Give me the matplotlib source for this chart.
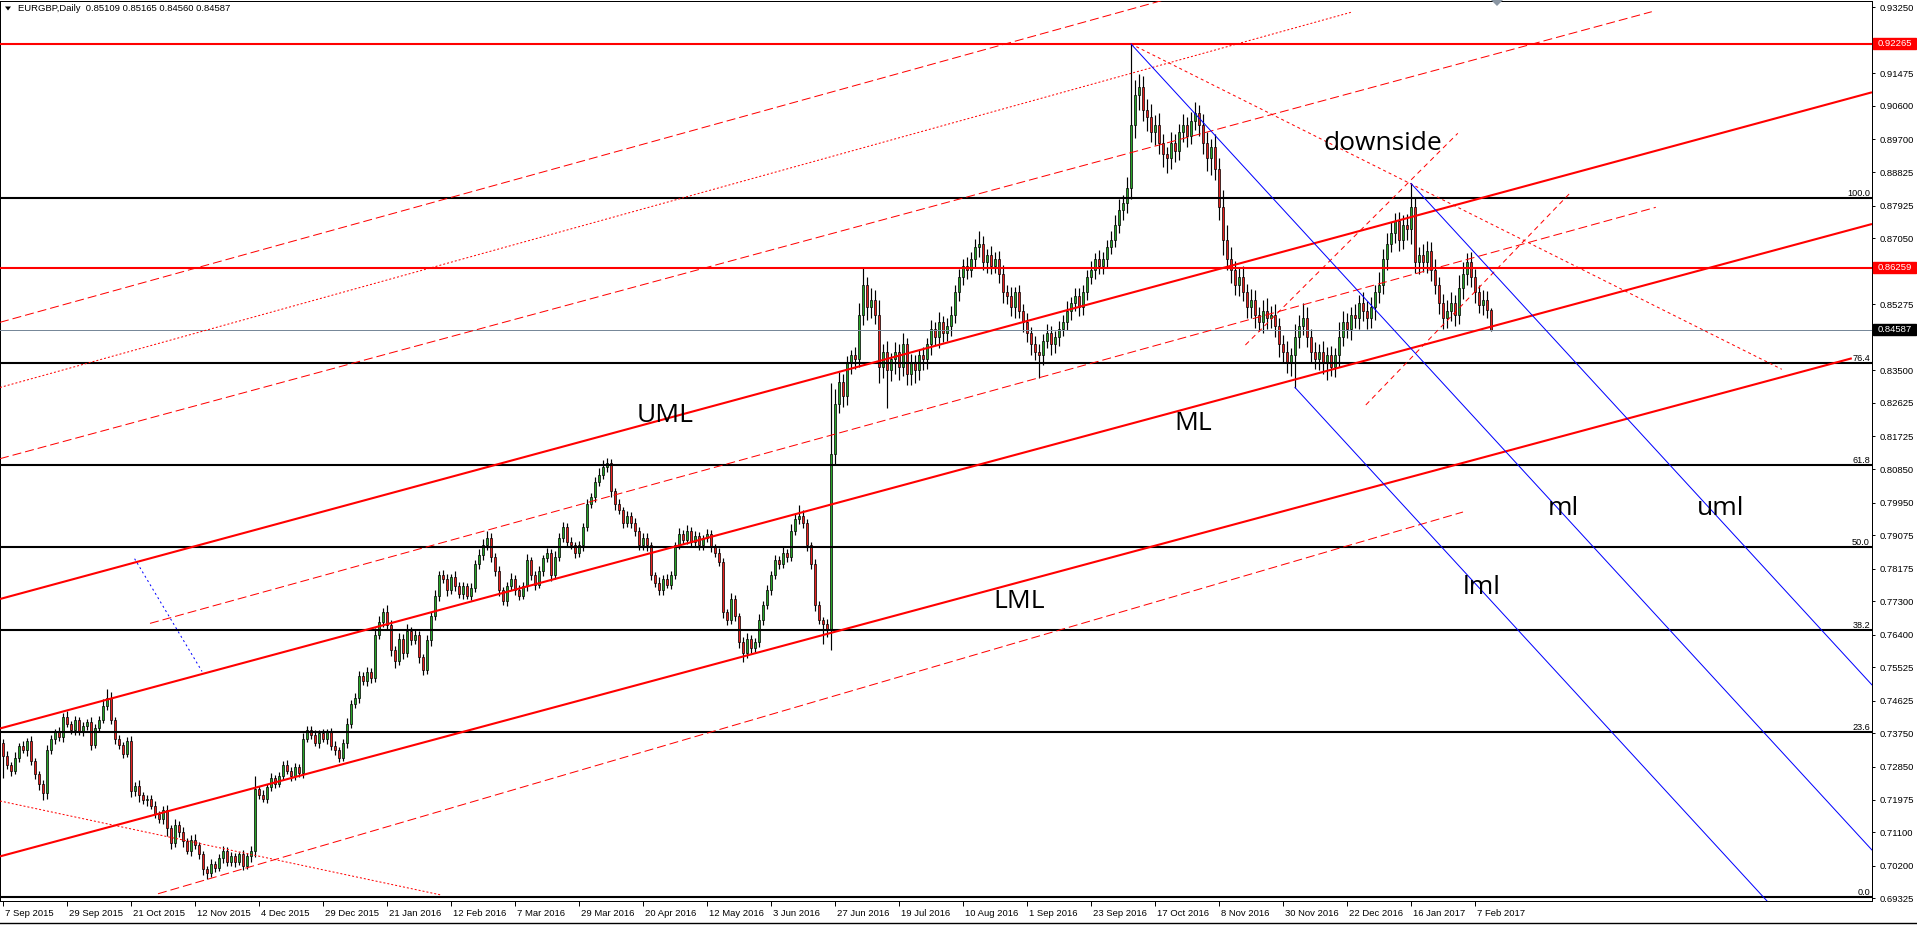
import numpy as np
import matplotlib
matplotlib.use('Agg')
import matplotlib.pyplot as plt
from matplotlib.patches import Rectangle, Polygon
from matplotlib.lines import Line2D
import matplotlib.transforms as mtransforms

plt.rcParams['font.family'] = ['Liberation Sans', 'DejaVu Sans']

# ---------------- data ----------------
header_text = 'EURGBP,Daily  0.85109 0.85165 0.84560 0.84587'

date_labels = ['7 Sep 2015', '29 Sep 2015', '21 Oct 2015', '12 Nov 2015', '4 Dec 2015',
               '29 Dec 2015', '21 Jan 2016', '12 Feb 2016', '7 Mar 2016', '29 Mar 2016',
               '20 Apr 2016', '12 May 2016', '3 Jun 2016', '27 Jun 2016', '19 Jul 2016',
               '10 Aug 2016', '1 Sep 2016', '23 Sep 2016', '17 Oct 2016', '8 Nov 2016',
               '30 Nov 2016', '22 Dec 2016', '16 Jan 2017', '7 Feb 2017']
label_bars = [0, 16, 32, 48, 64, 80, 96, 112, 128, 144, 160, 176, 192, 208, 224,
              240, 256, 272, 288, 304, 320, 336, 352, 368]

first_open_pips = 7350
close_pips = [
    7315, 7290, 7275, 7310, 7340, 7330, 7355, 7300, 7265, 7240,
    7215, 7330, 7360, 7380, 7365, 7420, 7400, 7385, 7410, 7380,
    7395, 7405, 7345, 7390, 7410, 7450, 7470, 7410, 7360, 7345,
    7320, 7355, 7220, 7235, 7210, 7195, 7200, 7180, 7160, 7145,
    7170, 7120, 7080, 7130, 7110, 7085, 7060, 7090, 7075, 7050,
    7010, 7000, 7025, 7015, 7040, 7060, 7030, 7045, 7030, 7050,
    7020, 7045, 7060, 7225, 7210, 7200, 7230, 7255, 7240, 7260,
    7290, 7275, 7260, 7285, 7270, 7360, 7385, 7370, 7350, 7375,
    7360, 7380, 7340, 7330, 7310, 7350, 7400, 7455, 7470, 7530,
    7515, 7540, 7525, 7640, 7675, 7700, 7665, 7600, 7570, 7630,
    7590, 7650, 7625, 7640, 7580, 7545, 7625, 7690, 7745, 7800,
    7790, 7760, 7795, 7770, 7750, 7770, 7745, 7765, 7830, 7855,
    7880, 7900, 7850, 7810, 7760, 7730, 7770, 7790, 7760, 7745,
    7770, 7840, 7800, 7775, 7810, 7845, 7860, 7800, 7850, 7900,
    7930, 7890, 7880, 7860, 7880, 7930, 7990, 8010, 8050, 8070,
    8090, 8100, 8025, 7990, 7975, 7940, 7960, 7940, 7920, 7880,
    7900, 7880, 7800, 7780, 7760, 7790, 7775, 7800, 7880, 7910,
    7895, 7920, 7890, 7905, 7880, 7900, 7910, 7875, 7860, 7835,
    7700, 7680, 7735, 7690, 7620, 7590, 7630, 7605, 7620, 7680,
    7720, 7760, 7800, 7840, 7830, 7860, 7850, 7920, 7950, 7960,
    7940, 7880, 7830, 7720, 7680, 7670, 7655, 8125, 8260, 8320,
    8280, 8370, 8390, 8380, 8500, 8580, 8520, 8540, 8500, 8360,
    8400, 8350, 8380, 8400, 8360, 8420, 8340, 8370, 8350, 8390,
    8380, 8420, 8460, 8440, 8480, 8450, 8470, 8500, 8560, 8600,
    8630, 8620, 8650, 8680, 8690, 8640, 8660, 8630, 8650, 8610,
    8560, 8550, 8520, 8560, 8510, 8480, 8450, 8420, 8400, 8390,
    8430, 8450, 8420, 8440, 8460, 8480, 8510, 8530, 8550, 8520,
    8560, 8600, 8620, 8650, 8630, 8650, 8680, 8700, 8740, 8780,
    8800, 8840, 9010, 9090, 9110, 9050, 9030, 8990, 9010, 8960,
    8930, 8920, 8960, 8940, 8990, 9010, 8980, 9020, 9040, 9010,
    8960, 8920, 8950, 8890, 8790, 8700, 8650, 8620, 8580, 8600,
    8560, 8520, 8540, 8500, 8480, 8510, 8490, 8500, 8470, 8420,
    8400, 8370, 8390, 8440, 8470, 8490, 8440, 8400, 8380, 8400,
    8370, 8390, 8360, 8390, 8440, 8480, 8460, 8500, 8490, 8530,
    8510, 8490, 8520, 8560, 8580, 8650, 8690, 8720, 8750, 8700,
    8740, 8730, 8790, 8640, 8660, 8640, 8670, 8620, 8580, 8530,
    8490, 8510, 8530, 8500, 8570, 8610, 8640, 8600, 8560, 8525,
    8540, 8510.9, 8458.7]

upper_wick_pips = [
    10, 12, 8, 14, 9, 16, 7, 12, 10, 8,
    9, 14, 11, 8, 13, 10, 15, 9, 12, 8,
    11, 9, 14, 10, 12, 18, 24, 16, 9, 12,
    8, 10, 12, 9, 14, 8, 11, 10, 13, 7,
    9, 12, 8, 15, 10, 13, 9, 11, 14, 8,
    10, 9, 12, 8, 11, 14, 9, 12, 10, 8,
    11, 9, 13, 35, 10, 12, 9, 14, 8, 11,
    10, 13, 9, 12, 8, 15, 11, 9, 14, 10,
    12, 8, 10, 14, 9, 11, 16, 10, 13, 12,
    9, 14, 11, 18, 15, 12, 20, 14, 10, 16,
    12, 18, 10, 14, 11, 9, 15, 12, 16, 10,
    14, 12, 9, 15, 11, 13, 10, 14, 12, 16,
    18, 20, 12, 10, 14, 9, 12, 15, 10, 13,
    11, 16, 9, 12, 14, 10, 13, 11, 15, 12,
    14, 10, 12, 9, 13, 11, 15, 12, 14, 18,
    20, 15, 12, 10, 14, 9, 12, 11, 13, 10,
    14, 12, 10, 9, 15, 11, 13, 12, 10, 16,
    12, 14, 10, 13, 11, 9, 15, 12, 10, 14,
    12, 10, 16, 11, 9, 13, 14, 10, 12, 15,
    11, 13, 10, 14, 12, 15, 10, 18, 14, 28,
    16, 12, 10, 14, 11, 9, 12, 190, 40, 25,
    20, 18, 15, 24, 30, 45, 22, 30, 25, 40,
    20, 28, 18, 25, 22, 30, 18, 24, 20, 15,
    22, 18, 25, 20, 28, 15, 20, 24, 18, 22,
    20, 25, 18, 22, 34, 20, 16, 24, 18, 20,
    22, 18, 25, 15, 20, 18, 24, 16, 22, 20,
    18, 24, 20, 15, 22, 18, 25, 16, 20, 22,
    18, 20, 25, 16, 22, 18, 20, 24, 26, 30,
    22, 30, 216.5, 40, 35, 30, 28, 35, 25, 30,
    24, 20, 30, 26, 22, 28, 20, 25, 30, 22,
    28, 30, 20, 35, 30, 45, 40, 30, 25, 28,
    30, 22, 28, 25, 20, 30, 35, 24, 28, 22,
    25, 30, 20, 35, 28, 40, 30, 22, 25, 20,
    28, 22, 25, 20, 40, 30, 25, 20, 28, 22,
    30, 25, 28, 20, 35, 25, 30, 28, 22, 25,
    28, 30, 62, 25, 22, 30, 28, 25, 30, 22,
    25, 28, 30, 22, 35, 30, 25, 28, 22, 20,
    25, 22, 5.6]

lower_wick_pips = [
    60, 10, 14, 9, 12, 8, 15, 10, 12, 18,
    20, 16, 9, 12, 10, 14, 8, 11, 13, 9,
    12, 10, 15, 9, 11, 8, 13, 10, 14, 12,
    10, 9, 15, 12, 18, 10, 14, 9, 12, 11,
    13, 20, 15, 9, 12, 14, 10, 13, 9, 12,
    15, 16, 10, 12, 9, 14, 11, 10, 13, 9,
    12, 10, 14, 18, 11, 9, 13, 10, 12, 8,
    11, 9, 14, 10, 12, 15, 9, 11, 10, 13,
    9, 12, 10, 14, 11, 9, 15, 10, 12, 14,
    10, 13, 15, 12, 10, 14, 11, 16, 20, 12,
    14, 10, 13, 11, 15, 12, 10, 14, 9, 13,
    12, 15, 10, 13, 11, 14, 9, 12, 10, 13,
    14, 11, 15, 12, 16, 10, 13, 11, 14, 12,
    10, 13, 12, 14, 9, 12, 10, 15, 11, 13,
    12, 14, 10, 13, 11, 15, 12, 10, 14, 11,
    13, 12, 16, 14, 11, 13, 10, 12, 14, 11,
    12, 15, 13, 11, 14, 12, 10, 13, 11, 9,
    12, 10, 14, 11, 13, 12, 10, 14, 12, 11,
    15, 13, 12, 14, 16, 22, 13, 15, 11, 12,
    14, 10, 12, 11, 13, 10, 14, 12, 11, 13,
    12, 15, 14, 16, 12, 55, 20, 55, 30, 25,
    28, 22, 30, 25, 20, 28, 35, 30, 25, 45,
    30, 102, 28, 40, 35, 25, 30, 28, 35, 25,
    30, 25, 28, 22, 30, 25, 20, 28, 22, 25,
    20, 24, 18, 22, 25, 20, 28, 22, 18, 25,
    28, 22, 25, 30, 20, 28, 25, 30, 22, 60,
    25, 20, 28, 22, 25, 18, 22, 25, 20, 24,
    20, 22, 18, 25, 20, 22, 24, 18, 20, 22,
    25, 28, 30, 35, 40, 30, 38, 28, 35, 30,
    35, 40, 28, 30, 25, 28, 30, 22, 25, 30,
    30, 35, 45, 30, 35, 40, 30, 35, 28, 30,
    25, 30, 28, 35, 25, 30, 28, 25, 30, 35,
    30, 28, 35, 86, 30, 25, 28, 30, 25, 28,
    30, 45, 25, 28, 30, 25, 22, 28, 25, 30,
    28, 30, 25, 35, 28, 25, 30, 22, 28, 30,
    25, 30, 40, 28, 30, 25, 28, 30, 25, 28,
    30, 25, 28, 30, 25, 28, 30, 25, 28, 22,
    25, 20, 2.7]

price_ticks = [0.93250, 0.91475, 0.90600, 0.89700, 0.88825, 0.87925, 0.87050,
               0.85275, 0.83500, 0.82625, 0.81725, 0.80850, 0.79950, 0.79075,
               0.78175, 0.77300, 0.76400, 0.75525, 0.74625, 0.73750, 0.72850,
               0.71975, 0.71100, 0.70200, 0.69325]

red_levels = [0.92265, 0.86259]
last_price = 0.84587
fib_low = 0.69367
fib_high = 0.88129
fib_levels = [0.0, 23.6, 38.2, 50.0, 61.8, 76.4, 100.0]

# red pitchfork lines (bar index, price)
red_upper = [(-0.75, 0.77361), (467.25, 0.90968)]
red_median = [(-0.75, 0.73884), (467.25, 0.87431)]
red_lower = [(-0.75, 0.70449), (462.2, 0.83825)]
red_dashed = [[(-0.75, 0.84791), (292.75, 0.93521)],
              [(-0.75, 0.81129), (412.2, 0.93132)],
              [(36.75, 0.76706), (413.2, 0.87879)],
              [(38.75, 0.69445), (365.0, 0.79697)]]
red_dotted = [[(-0.75, 0.83041), (337.0, 0.93116)],
              [(-0.75, 0.71937), (109.5, 0.69413)]]
downside_line = [(282.0, 0.92265), (444.7, 0.83529)]
red_short_dashed = [[(310.6, 0.84182), (363.7, 0.89866)],
                    [(340.7, 0.82571), (391.7, 0.88255)]]
blue_handle = [(32.9, 0.78443), (49.75, 0.75417)]
blue_pivots = [(282.0, 0.92265), (323.0, 0.8304), (352.0, 0.8852)]

text_labels = [('UML', 158.4, 0.82122), ('ML', 292.75, 0.81899),
               ('LML', 247.6, 0.77111), ('downside', 330.0, 0.89418),
               ('ml', 386.25, 0.79617), ('uml', 423.5, 0.79617),
               ('lml', 365.0, 0.77496)]

# ---------------- figure ----------------
W, H = 1917, 925
fig = plt.figure(figsize=(W / 100, H / 100), dpi=100, facecolor='white')
ax = fig.add_axes([0, 1 - 901 / H, 1872 / W, 900 / H])
ax.set_facecolor('white')
XMIN, XMAX = -0.75, 467.25
ax.set_xlim(XMIN, XMAX)
ax.set_ylim(0.69251, 0.934192)
PX = (0.934192 - 0.69251) / 900.0  # price per pixel

n = len(close_pips)
idx = np.arange(n)
closes = np.array(close_pips, float) / 1e4
opens = np.concatenate([[first_open_pips / 1e4], closes[:-1]])
highs = np.maximum(opens, closes) + np.array(upper_wick_pips[:n], float) / 1e4
lows = np.minimum(opens, closes) - np.array(lower_wick_pips[:n], float) / 1e4

# candles
ax.vlines(idx, lows, highs, color='black', lw=0.85, zorder=2)
body_bottom = np.minimum(opens, closes)
body_h = np.maximum(np.abs(closes - opens), 0.00004)
colors = np.where(closes >= opens, '#28a428', '#e8221e')
ax.bar(idx, body_h, bottom=body_bottom, width=0.72, color=colors,
       edgecolor='black', linewidth=0.5, zorder=3)

LW1 = 0.72
LW2 = 1.5

# horizontal levels
for lv in red_levels:
    ax.axhline(lv, color='#ff0000', lw=LW2, zorder=4)
ax.axhline(last_price, color='#778899', lw=LW1, zorder=4)
ytrans = mtransforms.blended_transform_factory(ax.transAxes, ax.transData)
for lvl in fib_levels:
    p = fib_low + (fib_high - fib_low) * lvl / 100.0
    ax.axhline(p, color='black', lw=LW2, zorder=4)
    ax.text(1870 / 1872, p + 2 * PX, f'{lvl:.1f}', transform=ytrans,
            ha='right', va='baseline', fontsize=6.6, color='black', zorder=6)


def seg(pts, **kw):
    (x0, y0), (x1, y1) = pts
    ax.plot([x0, x1], [y0, y1], **kw)


for pts in (red_upper, red_median, red_lower):
    seg(pts, color='#ff0000', lw=LW2, zorder=4, solid_capstyle='butt')
for pts in red_dashed:
    seg(pts, color='#ff0000', lw=LW1, ls=(0, (9, 4)), zorder=4)
for pts in red_dotted:
    seg(pts, color='#ff0000', lw=LW1, ls=(0, (2, 2)), zorder=4)
seg(downside_line, color='#ff0000', lw=LW1, ls=(0, (3, 3)), zorder=4)
for pts in red_short_dashed:
    seg(pts, color='#ff0000', lw=LW1, ls=(0, (5, 4)), zorder=4)
seg(blue_handle, color='#0000ff', lw=LW1, ls=(0, (2, 3)), zorder=4)

# blue pitchfork from three pivots
(p0x, p0y), (p1x, p1y), (p2x, p2y) = blue_pivots
mx, my = (p1x + p2x) / 2, (p1y + p2y) / 2
slope = (my - p0y) / (mx - p0x)
for sx, sy in blue_pivots:
    ax.plot([sx, XMAX], [sy, sy + slope * (XMAX - sx)], color='#0000ff', lw=LW1, zorder=4)

for txt, bx, by in text_labels:
    ax.text(bx, by, txt, fontsize=19, color='black', ha='left', va='baseline',
            family=['Open Sans', 'DejaVu Sans'], zorder=7)

# axes styling
for s in ax.spines.values():
    s.set_color('black')
    s.set_linewidth(LW1)

ax.yaxis.tick_right()
ax.set_yticks(price_ticks)
ax.set_yticklabels([f'{t:.5f}' for t in price_ticks])
ax.tick_params(axis='y', direction='out', length=2.5, width=0.7, pad=3,
               labelsize=6.8, colors='black')
ax.set_xticks(label_bars)
ax.set_xticklabels(date_labels)
ax.tick_params(axis='x', direction='out', length=3.5, width=0.7, pad=2.5,
               labelsize=6.8, colors='black')
off = mtransforms.ScaledTranslation(2 / 100, 0, fig.dpi_scale_trans)
for lbl in ax.get_xticklabels():
    lbl.set_horizontalalignment('left')
    lbl.set_transform(lbl.get_transform() + off)

# price boxes on the right axis
box_h = 11 * PX
for p, fc in [(red_levels[0], '#ff0000'), (red_levels[1], '#ff0000'), (last_price, '#000000')]:
    ax.add_patch(Rectangle((1.0005, p - box_h / 2), 43 / 1872, box_h, transform=ytrans,
                           facecolor=fc, edgecolor=fc, clip_on=False, zorder=8))
    ax.text(1.0005 + 21.5 / 1872, p, f'{p:.5f}', transform=ytrans, color='white',
            ha='center', va='center', fontsize=6.8, zorder=9, clip_on=False)

# header and decorations
fig.text(18 / W, 1 - 8.5 / H, header_text, fontsize=6.8, ha='left', va='center', color='black')
fig.add_artist(Polygon([(5 / W, 1 - 6.5 / H), (11 / W, 1 - 6.5 / H), (8 / W, 1 - 10.5 / H)],
                       closed=True, transform=fig.transFigure, facecolor='black', edgecolor='none'))
fig.add_artist(Polygon([(1491 / W, 1.0), (1503 / W, 1.0), (1497 / W, 1 - 6 / H)],
                       closed=True, transform=fig.transFigure, facecolor='#8a96a3', edgecolor='none'))
fig.add_artist(Line2D([0, 1], [1 - 923 / H, 1 - 923 / H], transform=fig.transFigure,
                      color='black', lw=1.0))

fig.savefig('out.png', dpi=100, facecolor='white')
